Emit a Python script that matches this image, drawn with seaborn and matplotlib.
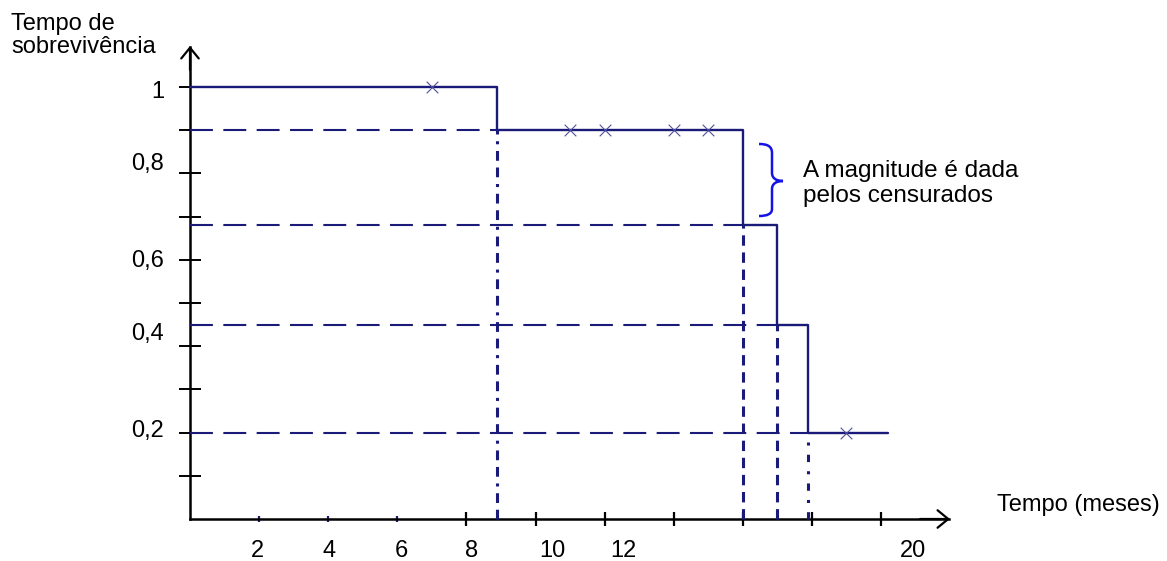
import numpy as np
import pandas as pd
import matplotlib
matplotlib.use("Agg")
import matplotlib.pyplot as plt
import seaborn as sns
from matplotlib.path import Path
from matplotlib.patches import PathPatch

# ---------------- data ----------------
event_times = [0.0, 8.9, 16.0, 17.0, 17.9]      # months where the curve steps
survival = [1.0, 0.9, 0.68, 0.45, 0.2]          # survival level after each step
end_time = 20.2                                  # end of last horizontal segment
censor_times = [7.0, 11.0, 12.0, 14.0, 15.0, 19.0]

y_ticks = [0.1, 0.2, 0.3, 0.4, 0.5, 0.6, 0.7, 0.8, 0.9, 1.0]
y_label_vals = [1.0, 0.8, 0.6, 0.4, 0.2]
y_label_text = ["1", "0,8", "0,6", "0,4", "0,2"]

x_ticks_major = [8, 10, 12, 14, 16, 18, 20]
x_ticks_minor = [2, 4, 6]
x_label_vals = [2, 4, 6, 8, 10, 12, 20]
x_label_text = ["2", "4", "6", "8", "10", "12", "20"]

# ---------------- layout helpers ----------------
W, H = 1167, 561
X0PX, PXT = 190.0, 34.55      # pixel of t=0, pixels per month
Y0PX, PXV = 519.0, 432.0      # pixel of v=0, pixels per unit survival


def px2t(px):
    return (px - X0PX) / PXT


def py2v(py):
    return (Y0PX - py) / PXV


# hand placed label shifts (layout only)
y_label_shift = [-0.0255, 0.0069, -0.0167, 0.0139, -0.0102]
x_label_shift = [-0.06, 0.03, 0.11, 0.16, 0.48, 0.53, 0.93]

NAVY = "#1a1a78"
sns.set_theme(style="white")
plt.rcParams["font.family"] = ["Liberation Sans", "DejaVu Sans"]

fig = plt.figure(figsize=(W / 100, H / 100), dpi=100)
ax = fig.add_axes([0, 0, 1, 1])
ax.set_xlim(px2t(0), px2t(W))
ax.set_ylim(py2v(H), py2v(0))
ax.set_facecolor("white")

# ---------------- step curve ----------------
step_df = pd.DataFrame({"tempo": event_times + [end_time],
                        "sobrevivencia": survival + [survival[-1]]})
sns.lineplot(data=step_df, x="tempo", y="sobrevivencia", drawstyle="steps-post",
             estimator=None, sort=False, color=NAVY, lw=1.7, ax=ax, zorder=4)

# censored marks
idx = np.searchsorted(np.array(event_times), np.array(censor_times), side="right") - 1
cens_df = pd.DataFrame({"tempo": censor_times,
                        "sobrevivencia": np.array(survival)[idx]})
sns.scatterplot(data=cens_df, x="tempo", y="sobrevivencia", marker="x", s=70,
                color="#5050a0", linewidth=0.8, ax=ax, zorder=5)

# ---------------- guide lines ----------------
for t, lev in zip(event_times[1:], survival[1:]):
    ax.hlines(lev, 0, t, colors=NAVY, lw=1.5,
              linestyles=[(0, (11, 5))], zorder=3)
vstyles = [(0, (3.2, 2.2, 3.2, 2.2, 1.0, 2.2)), (0, (3.4, 2.2)), (0, (3.4, 2.2)),
           (0, (2.4, 3.0, 1.0, 3.0))]
for t, lev, ls in zip(event_times[1:], survival[1:], vstyles):
    ax.vlines(t, 0, lev, colors=NAVY, lw=2.2, linestyles=[ls], zorder=3)

# ---------------- axes with arrows ----------------
for side in ["top", "right"]:
    ax.spines[side].set_visible(False)
ax.spines["left"].set_position(("data", 0))
ax.spines["bottom"].set_position(("data", 0))
ax.spines["left"].set_bounds(0, py2v(47))
ax.spines["bottom"].set_bounds(0, px2t(949))
for side in ["left", "bottom"]:
    ax.spines[side].set_color("black")
    ax.spines[side].set_linewidth(1.8)
    ax.spines[side].set_zorder(2)

arrow_kw = dict(arrowstyle="->,head_length=0.55,head_width=0.45", lw=1.6,
                color="black", mutation_scale=14, shrinkA=0, shrinkB=0)
ax.annotate("", xy=(0, py2v(46)), xytext=(0, py2v(70)), arrowprops=arrow_kw)
ax.annotate("", xy=(px2t(950), 0), xytext=(px2t(920), 0), arrowprops=arrow_kw)

ax.set_yticks(y_ticks)
ax.set_yticklabels([])
ax.tick_params(axis="y", direction="inout", length=16, width=1.4, color="black",
               left=True)
ax.set_xticks(x_ticks_major)
ax.set_xticks(x_ticks_minor, minor=True)
ax.set_xticklabels([])
ax.tick_params(axis="x", which="major", direction="inout", length=10, width=1.6,
               color="black", bottom=True)
ax.tick_params(axis="x", which="minor", direction="inout", length=5, width=1.6,
               color=NAVY, bottom=True)
ax.set_xlabel("")
ax.set_ylabel("")
ax.grid(False)

# ---------------- tick labels ----------------
for val, txt, sh in zip(y_label_vals, y_label_text, y_label_shift):
    ax.text(px2t(164), val + sh, txt, ha="right", va="baseline", fontsize=17,
            color="black")
for val, txt, sh in zip(x_label_vals, x_label_text, x_label_shift):
    ax.text(val + sh, py2v(557), txt, ha="center", va="baseline", fontsize=17,
            color="black")

# ---------------- texts ----------------
def ftext(px, py, s, **kw):
    fig.text(px / W, 1 - py / H, s, va="baseline", ha="left", color="black", **kw)


ftext(11, 30, "Tempo de", fontsize=17)
ftext(11, 53, "sobrevivência", fontsize=17)
ftext(997, 511, "Tempo (meses)", fontsize=17)
ftext(803, 177, "A magnitude é dada", fontsize=17.5)
ftext(803, 202, "pelos censurados", fontsize=17.5)

# ---------------- brace ----------------
bp = [(759, 144), (767, 144), (772, 146), (772, 153),
      (772, 173),
      (772, 178), (776, 181), (783, 181),
      (776, 181), (772, 184), (772, 189),
      (772, 209),
      (772, 214), (767, 216), (759, 216)]
codes = [Path.MOVETO, Path.CURVE4, Path.CURVE4, Path.CURVE4,
         Path.LINETO,
         Path.CURVE4, Path.CURVE4, Path.CURVE4,
         Path.CURVE4, Path.CURVE4, Path.CURVE4,
         Path.LINETO,
         Path.CURVE4, Path.CURVE4, Path.CURVE4]
verts = [(px2t(x), py2v(y)) for x, y in bp]
ax.add_patch(PathPatch(Path(verts, codes), fill=False, edgecolor="#1414e6",
                       lw=1.8, zorder=5))

fig.savefig("out.png", dpi=100, facecolor="white")
